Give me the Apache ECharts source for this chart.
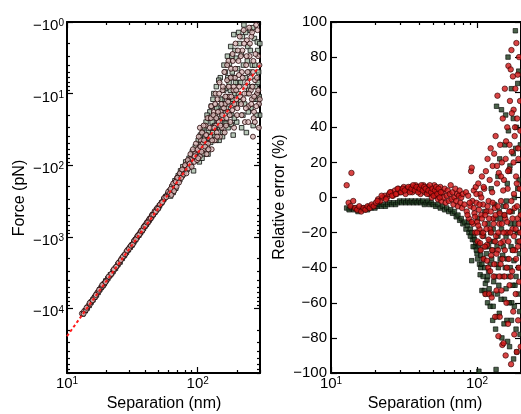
<!DOCTYPE html>
<html><head><meta charset="utf-8">
<script src="https://cdn.jsdelivr.net/npm/echarts@6/dist/echarts.min.js"></script>
<style>html,body{margin:0;padding:0;background:#fff}#c{width:521px;height:414px}</style>
</head><body><div id="c"></div>
<script>
// ---- Left panel: force vs separation [separation (nm), force (pN)]
const forceSquares = [[13.2,-12000],[13.8,-10800],[14.3,-9900],[14.8,-9100],[15.3,-8200],[15.8,-7600],[16.3,-7000],[16.8,-6500],[17.3,-6000],[17.8,-5500],[18.3,-5100],[18.8,-4800],[19.3,-4500],[19.8,-4150],[20.5,-3850],[21.5,-3400],[22.5,-3050],[23.5,-2750],[24.5,-2450],[25.5,-2250],[26.5,-2000],[27.5,-1820],[28.5,-1650],[29.5,-1520],[30.5,-1400],[31.5,-1300],[32.5,-1180],[33.5,-1100],[34.5,-1010],[35.5,-950],[36.5,-880],[37.5,-820],[38.5,-760],[39.5,-710],[40.5,-670],[41.5,-630],[42.5,-590],[43.5,-555],[44.5,-520],[45.5,-490],[47,-455],[48.5,-420],[50,-395],[51,-370],[53,-335],[55,-300],[57,-275],[59,-255],
[61,-230],[62,-270],[64,-200],[65,-240],[67,-165],[68,-210],[70,-175],[71,-140],[73,-160],[74,-120],[76,-140],[77,-105],[79,-125],[81,-90],[83,-115],[86,-80],[89,-100],[91,-65],[93,-120],[96,-55],[98,-75],[101,-45],[103,-90],[106,-50],[109,-32],[111,-70],[113,-42],[116,-25],[119,-55],[121,-35],[124,-18],[126,-48],[129,-25],[131,-12],[134,-38],[136,-20],[139,-8],[141,-30],[144,-15],[146,-45],[149,-6],[151,-22],[154,-12],[156,-35],[159,-4],[161,-25],[164,-8.5],[166,-16],[169,-3],[171,-30],[174,-7],[177,-13],[179,-2.2],[182,-20],[184,-5],[187,-38],[189,-1.5],[192,-10],[196,-3.2],[199,-25],[203,-7],[206,-1.4],[212,-13],[216,-2.8],[222,-20],[226,-1.1],[232,-6],[236,-35],[242,-2.2],[246,-9],[252,-1.3],[256,-16],[262,-4],[266,-28],[272,-1.7],[278,-8],[283,-12],[288,-2.5],[293,-5],[298,-20],
[102,-65],[105,-38],[108,-80],[112,-30],[115,-48],[118,-20],[120,-70],[123,-40],[127,-15],[130,-35],[133,-10],[135,-28],[138,-45],[140,-16],[143,-24],[145,-6.5],[148,-30],[150,-12],[153,-18],[155,-40],[158,-9],[160,-14],[163,-5],[165,-26],[167,-11],[170,-6],[173,-18],[175,-3.8],[178,-9],[181,-27],[183,-3],[186,-12],[188,-6],[191,-22],[193,-2.5],[195,-7],[198,-14],[202,-4.5],[205,-10],[209,-2],[213,-7],[217,-30],[220,-1.6],[224,-4],[229,-14],[233,-1.4],[238,-10],[240,-3.5],[244,-18],[249,-5],[253,-2.5],[258,-8],[264,-1.2],[268,-12],[274,-4],[280,-20],[286,-1.9],[290,-7],[296,-11],[299,-2]];
const forceCircles = [[13,-11800],[13.5,-11000],[14,-10500],[14.5,-9300],[15,-8800],[15.5,-7900],[16,-7200],[16.5,-6900],[17,-6100],[17.5,-5800],[18,-5300],[18.5,-5000],[19,-4800],[19.5,-4400],[20,-4100],[21,-3650],[22,-3300],[23,-2900],[24,-2600],[25,-2350],[26,-2050],[27,-1900],[28,-1750],[29,-1580],[30,-1430],[31,-1350],[32,-1250],[33,-1120],[34,-1040],[35,-980],[36,-900],[37,-850],[38,-800],[39,-730],[40,-690],[41,-650],[42,-610],[43,-570],[44,-540],[45,-500],[46,-480],[47,-460],[48,-430],[49,-410],[50,-385],[52,-350],[54,-320],[56,-290],[58,-265],[60,-250],
[13.4,-11900],[14.1,-9800],[14.9,-8400],[15.7,-7700],[16.6,-6500],[17.6,-5500],[18.6,-4700],[19.7,-4300],[20.8,-3600],[21.8,-3300],[22.8,-2850],[23.8,-2620],[24.8,-2300],[25.8,-2120],[26.8,-1890],[27.8,-1760],[28.8,-1560],[29.8,-1470],[30.8,-1330],[31.8,-1280],[32.8,-1130],[33.8,-1080],[34.8,-960],[35.8,-930],[36.8,-830],[37.8,-810],[38.8,-720],[39.8,-700],[40.8,-630],[41.8,-620],[42.8,-560],[43.8,-550],[44.8,-495],[45.8,-490],[46.8,-440],[47.8,-445],[48.8,-400],[49.8,-405],[51.5,-355],[53.5,-330],[55.5,-285],[57.5,-280],[59.5,-235],[61.5,-245],[63.5,-195],[64.5,-215],[66.5,-175],[67.5,-195],[69.5,-150],[71.5,-160],[72.5,-140],[74.5,-135],[75.5,-125],[77.5,-120],[79.5,-110],[81,-105],[83,-95],[86,-98],[88,-82],[91,-80],[93,-75],[96,-68],[99,-62],[103,-58],[106,-45],[109,-50],
[62,-215],[63,-260],[65,-180],[66,-230],[68,-170],[69,-200],[70,-150],[72,-175],[73,-130],[75,-150],[76,-115],[78,-135],[80,-100],[82,-130],[84,-85],[85,-110],[87,-95],[88,-70],[90,-105],[92,-60],[94,-90],[95,-75],[97,-50],[99,-85],[100,-60],[102,-40],[104,-75],[105,-55],[108,-35],[110,-60],[112,-45],[115,-28],[117,-70],[118,-38],[120,-50],[122,-22],[125,-40],[127,-15],[128,-60],[130,-30],[133,-18],[135,-45],[137,-10],[138,-28],[140,-35],[142,-12],[145,-25],[147,-7],[148,-40],[150,-18],[153,-30],[155,-9],[157,-22],[160,-5],[162,-14],[165,-28],[168,-6.5],[170,-18],[172,-3.5],[175,-11],[178,-25],[180,-4.5],[183,-15],[185,-2.8],[188,-9],[190,-30],[193,-6],[195,-2],[198,-12],[200,-20],[205,-3.5],[208,-8],[210,-1.6],[215,-14],[218,-5],[220,-2.5],[225,-1.3],[228,-10],[230,-25],[235,-4],[238,-1.8],[240,-7],[245,-15],[248,-1.2],[250,-3],[255,-9],[258,-1.6],[260,-12],[265,-5],[268,-22],[270,-18],[275,-6.5],[280,-1.1],[285,-10],[290,-3],[295,-14],[265,-40],
[101,-80],[104,-30],[107,-65],[111,-28],[114,-55],[116,-38],[119,-22],[121,-60],[124,-30],[126,-22],[129,-45],[132,-20],[134,-30],[136,-14],[139,-22],[141,-40],[143,-18],[146,-10],[149,-28],[152,-14],[154,-20],[156,-8],[159,-16],[161,-35],[163,-11],[166,-22],[168,-4],[171,-13],[173,-8],[176,-20],[179,-6],[181,-11],[184,-17],[186,-3.5],[189,-8],[191,-14],[194,-4.5],[197,-9],[201,-16],[203,-2.5],[207,-5.5],[211,-11],[214,-3],[217,-20],[221,-6],[224,-12],[227,-2],[231,-8],[234,-16],[237,-3],[241,-5],[244,-25],[247,-10],[251,-2],[254,-6],[257,-14],[261,-1.4],[263,-8],[267,-3.5],[271,-11],[274,-25],[277,-2.8],[281,-15],[284,-6],[287,-1.3],[291,-9],[294,-30],[297,-4],[299,-12]];
const theoryLine = [[10,-24500],[100,-68],[300,-4]];

// ---- Right panel: relative error (%) vs separation (nm)
const errSquares = [[12.8,-6],[13.3,-7],[13.8,-6],[14.3,-7],[14.8,-6],[15.3,-8],[15.8,-7],[16.3,-6],[16.8,-7],[17.3,-6],[17.8,-7],[18.3,-5],[18.8,-6],[19.4,-5],[20,-6],[20.7,-5],[21.4,-4],[22.1,-5],[22.8,-4],[23.6,-5],[24.4,-4],[25.2,-3],[26,-4],[26.8,-3],[27.7,-4],[28.6,-3],[29.5,-2],[30.5,-3],[31.5,-2],[32.5,-3],[33.5,-2],[34.5,-3],[35.5,-2],[36.6,-3],[37.7,-2],[38.8,-3],[40,-2],[41.2,-3],[42.4,-2],[43.6,-4],[44.8,-3],[46,-2],[47.3,-4],[48.6,-3],
[50,-4],[52,-5],[54,-4],[56,-6],[58,-5],[60,-7],[62,-6],[64,-8],[66,-7],[68,-9],[70,-8],[72,-11],[74,-10],[76,-13],[78,-12],[80,-15],[82,-14],[84,-18],[86,-16],[88,-20],[90,-18],[92,-36],[93,-24],[95,-22],[97,-28],[98,-26],[100,-32],[101,-12],[103,-99],[104,-38],[105,-30],[106,-40],[107,-20],[108,-53],[110,-35],[112,-53],[113,-8],[114,-49],[115,-28],[117,-47],[118,-60],[119,-15],[120,-42],[122,-25],[123,-62],[125,5],[126,-35],[128,-70],[129,-18],[130,-48],[132,-4],[134,-75],[135,-98],[136,52],[137,-28],[138,-55],[139,12],[140,-40],[142,-66],[143,22],[145,-12],[147,50],[148,-80],[150,-33],[152,-5],[154,-58],[155,30],[157,47],[158,-22],[160,-70],[161,8],[163,80],[164,38],[165,-45],[167,-85],[168,18],[170,-15],[172,62],[173,-60],[175,-30],[177,25],[178,-92],[180,0],[182,-50],[183,95],[185,-75],[186,40],[188,-20],[190,65],[192,-40],[194,10],[196,-65],[198,30],
[88,-14],[90,-22],[92,-20],[94,-28],[96,-24],[99,-30],[101,-35],[103,-27],[105,-44],[106,-33],[108,-38],[110,-45],[111,-22],[113,-40],[115,-55],[116,-32],[118,-45],[120,-28],[121,-52],[123,-38],[124,-20],[126,-55],[127,-30],[129,-62],[131,-25],[133,-45],[134,-12],[136,-38],[137,-68],[139,-22],[141,-50],[142,-8],[144,-35],[146,-58],[147,-18],[149,-45],[151,-28],[153,-72],[154,-10],[156,-40],[158,-52],[159,-2],[161,-35],[162,-82],[164,-20],[166,-60],[167,15],[169,-40],[171,-28],[172,-70],[174,-8],[176,-50],[177,45],[179,-36],[180,-62],[182,-15],[184,28],[185,-45],[187,-88],[189,-25],[190,5],[192,-55],[193,72],[195,-32],[197,-78],[199,-8]];
const errCircles = [[12.8,7],[13.8,14],[13.2,-3],[13.6,-5],[14.2,-2],[14.6,-6],[15.1,-7],[15.6,-5],[16.1,-8],[16.7,-6],[17.2,-7],[17.8,-5],[18.4,-6],[19,-4],[19.6,-5],[20.3,-3],[21,-1],[21.8,-2],[22.6,0],[23.4,1],[24.2,0],[25,2],[25.8,3],[26.6,1],[27.4,4],[28.2,2],[29,5],[29.8,3],[30.6,4],[31.5,6],[32.4,2],[33.3,5],[34.2,4],[35.1,6],[36,3],[37,5],[38,7],[39,4],[40,6],[41,2],[42,5],[43,7],[44,3],[45,4],[46,6],[47,2],[48,5],[49,0],[50,3],[51,7],[52,1],[53,4],[54,-1],[55,2],[56,6],[57,-2],[58,3],[59,0],[60,5],[61,-3],[62,1],[63,4],[64,-2],[65,2],[66,7],[67,-1],[68,3],[69,-4],[70,0],[71,5],[72,-2],[73,2],[74,-5],[75,1],[76,4],[77,-3],[78,0],[79,-6],[80,2],
[20.8,-2],[22.2,1],[23.8,-1],[25.4,3],[26.2,1],[27.8,2],[28.6,5],[30.2,3],[31,5],[32,4],[33.8,6],[34.7,3],[35.6,5],[36.5,7],[37.5,4],[38.5,6],[39.5,3],[40.5,5],[41.5,7],[42.5,4],[43.5,6],[44.5,5],[45.5,2],[46.5,4],[47.5,7],[48.5,3],[49.5,5],[50.5,1],[51.5,4],[52.5,6],[53.5,2],[54.5,5],[55.5,0],[56.5,3],
[82,-4],[84,3],[85,-8],[87,1],[88,-12],[90,-5],[91,15],[92,17],[93,-2],[94,-15],[95,4],[96,-9],[97,-20],[98,6],[99,-3],[100,-14],[101,-25],[102,8],[103,-7],[104,-18],[105,2],[106,-30],[107,-10],[108,12],[109,-22],[110,-4],[111,-35],[112,5],[113,-15],[114,-55],[115,15],[116,-8],[117,-27],[118,22],[119,-40],[120,-2],[121,-55],[122,10],[123,-18],[124,28],[125,-33],[126,-57],[127,3],[128,18],[129,-12],[130,-45],[131,25],[132,-6],[133,-68],[134,35],[135,-22],[136,-53],[137,8],[138,58],[139,-30],[140,-79],[141,14],[142,-15],[143,-68],[144,30],[145,-38],[146,-2],[147,-53],[148,20],[149,-84],[150,45],[151,-25],[152,-83],[153,10],[154,-45],[155,62],[156,-12],[157,-90],[158,32],[159,-60],[160,-20],[161,40],[162,5],[163,-72],[164,75],[165,-35],[166,16],[167,-50],[168,55],[169,-8],[170,73],[171,-95],[172,84],[173,26],[174,-42],[175,-18],[176,69],[177,-65],[178,50],[179,2],[180,-78],[181,35],[182,-30],[183,62],[184,-55],[185,12],[186,88],[187,-88],[188,45],[189,-12],[190,70],[191,-70],[192,22],[193,-40],[194,80],[195,-25],[197,55],[199,-85],
[86,-10],[89,-3],[92,-14],[95,-6],[97,-11],[99,2],[100,-20],[102,-16],[104,-4],[105,-26],[107,0],[108,-12],[110,-20],[111,6],[113,-28],[114,-10],[116,-18],[117,-36],[118,-5],[120,-24],[121,-12],[123,-42],[124,-8],[125,-20],[127,-30],[128,-3],[130,-15],[131,-38],[133,-25],[134,-10],[136,-32],[137,18],[139,-5],[140,-20],[142,-45],[143,-9],[145,-26],[146,12],[148,-15],[149,-35],[151,4],[152,-20],[154,-10],[155,-30],[157,22],[158,-5],[160,-40],[161,-14],[163,15],[164,-25],[166,-8],[167,30],[169,-20],[170,-45],[172,-2],[173,48],[175,-12],[176,-30],[178,20],[179,-22],[181,-6],[182,40],[184,-18],[185,-35],[187,8],[188,-5],[190,-28],[191,28],[193,-15],[194,-48],[196,5],[197,-20],[198,38],[199,-10]];

// ---- Tick values
const leftXMajor = [10, 100];
const leftXMinor = [20, 30, 40, 50, 60, 70, 80, 90, 200, 300];
const leftYMajor = [1, 10, 100, 1000, 10000];           // magnitudes of -10^n
const leftYMinor = [2,3,4,5,6,7,8,9,20,30,40,50,60,70,80,90,200,300,400,500,600,700,800,900,2000,3000,4000,5000,6000,7000,8000,9000,20000,30000,40000,50000,60000,70000,80000];
const rightXMajor = [10, 100];
const rightXMinor = [20, 30, 40, 50, 60, 70, 80, 90, 200];
const rightYTicks = [-100, -80, -60, -40, -20, 0, 20, 40, 60, 80, 100];

const FONT = 'Liberation Sans, Arial, Helvetica, sans-serif';
const chart = echarts.init(document.getElementById('c'));

const supRich = (raise) => ({
  b: {fontSize: 15, lineHeight: 15, verticalAlign: 'bottom', fontFamily: FONT, color: '#000'},
  s: {fontSize: 10, lineHeight: 10, verticalAlign: 'top', padding: [0, 0, raise, 0], fontFamily: FONT, color: '#000'}
});
function powFmt(prefix) {
  return function (v) {
    const l = Math.log10(v), e = Math.round(l);
    if (Math.abs(l - e) > 1e-6) return '';
    return '{b|' + prefix + '10}{s|' + e + '}';
  };
}
const axLine = {show: true, onZero: false, lineStyle: {color: '#000', width: 2}};
function mkAxis(gi, pos, base, ticks, len, line, label) {
  return Object.assign({
    gridIndex: gi, position: pos, splitLine: {show: false},
    axisLine: line ? axLine : {show: false, onZero: false},
    axisTick: {show: true, inside: true, length: len, customValues: ticks, lineStyle: {color: '#000', width: 1.2}},
    axisLabel: label ? label : {show: false}
  }, base);
}

const lxBase = {type: 'log', logBase: 10, min: 10, max: 300};
const lyBase = {type: 'log', logBase: 10, min: 1, max: 80000, inverse: true};
const rxBase = {type: 'log', logBase: 10, min: 10, max: 200};
const ryBase = {type: 'value', min: -100, max: 100, interval: 20};

const xLabel = (vals) => ({show: true, customValues: vals, margin: 3, formatter: powFmt(''), rich: supRich(12)});
const yLabelL = {show: true, customValues: leftYMajor, margin: 3, padding: [8, 0, 0, 0], formatter: powFmt('\u2212'), rich: supRich(8)};
const yLabelR = {show: true, customValues: rightYTicks, margin: 4, fontSize: 15, fontFamily: FONT, color: '#000',
  formatter: v => (v < 0 ? '\u2212' + Math.abs(v) : String(v))};

const xAxes = [
  mkAxis(0, 'bottom', lxBase, leftXMajor, 6, true, xLabel(leftXMajor)),
  mkAxis(0, 'bottom', lxBase, leftXMinor, 3, false, null),
  mkAxis(0, 'top', lxBase, leftXMajor, 6, true, null),
  mkAxis(0, 'top', lxBase, leftXMinor, 3, false, null),
  mkAxis(1, 'bottom', rxBase, rightXMajor, 6, true, xLabel(rightXMajor)),
  mkAxis(1, 'bottom', rxBase, rightXMinor, 3, false, null),
  mkAxis(1, 'top', rxBase, rightXMajor, 6, true, null),
  mkAxis(1, 'top', rxBase, rightXMinor, 3, false, null)
];
const yAxes = [
  mkAxis(0, 'left', lyBase, leftYMajor, 6, true, yLabelL),
  mkAxis(0, 'left', lyBase, leftYMinor, 3, false, null),
  mkAxis(0, 'right', lyBase, leftYMajor, 6, true, null),
  mkAxis(0, 'right', lyBase, leftYMinor, 3, false, null),
  mkAxis(1, 'left', ryBase, rightYTicks, 6, true, yLabelR),
  mkAxis(1, 'right', ryBase, rightYTicks, 6, true, null)
];

const mag = arr => arr.map(p => [p[0], -p[1]]);

chart.setOption({
  animation: false,
  backgroundColor: '#fff',
  grid: [
    {left: 67, top: 22, width: 193, height: 351},
    {left: 331, top: 22, width: 191, height: 351}
  ],
  xAxis: xAxes,
  yAxis: yAxes,
  series: [
    {type: 'scatter', xAxisIndex: 0, yAxisIndex: 0, symbol: 'rect', symbolSize: 4.5, data: mag(forceSquares),
      itemStyle: {color: '#a8bca8', borderColor: '#0d0d0d', borderWidth: 1}},
    {type: 'scatter', xAxisIndex: 0, yAxisIndex: 0, symbol: 'circle', symbolSize: 5, data: mag(forceCircles),
      itemStyle: {color: '#d9b9b9', borderColor: '#220202', borderWidth: 1}},
    {type: 'line', xAxisIndex: 0, yAxisIndex: 0, data: mag(theoryLine), symbol: 'none', z: 5,
      lineStyle: {color: '#ff1a1a', width: 2, type: [3, 2.5]}},
    {type: 'scatter', xAxisIndex: 4, yAxisIndex: 4, symbol: 'rect', symbolSize: 4.5, data: errSquares,
      itemStyle: {color: '#1d3b1d', borderColor: '#050805', borderWidth: 0.8}},
    {type: 'scatter', xAxisIndex: 4, yAxisIndex: 4, symbol: 'circle', symbolSize: 5.5, data: errCircles,
      itemStyle: {color: '#d01515', borderColor: '#300000', borderWidth: 0.8}}
  ],
  graphic: [
    {type: 'text', x: 20, y: 198, rotation: Math.PI / 2, style: {text: 'Force (pN)', fontSize: 16, fontFamily: FONT, fill: '#000', align: 'center', verticalAlign: 'middle'}},
    {type: 'text', x: 164, y: 404, style: {text: 'Separation (nm)', fontSize: 16, fontFamily: FONT, fill: '#000', align: 'center', verticalAlign: 'middle'}},
    {type: 'text', x: 280, y: 197, rotation: Math.PI / 2, style: {text: 'Relative error (%)', fontSize: 16, fontFamily: FONT, fill: '#000', align: 'center', verticalAlign: 'middle'}},
    {type: 'text', x: 425, y: 404, style: {text: 'Separation (nm)', fontSize: 16, fontFamily: FONT, fill: '#000', align: 'center', verticalAlign: 'middle'}}
  ]
});
</script></body></html>
